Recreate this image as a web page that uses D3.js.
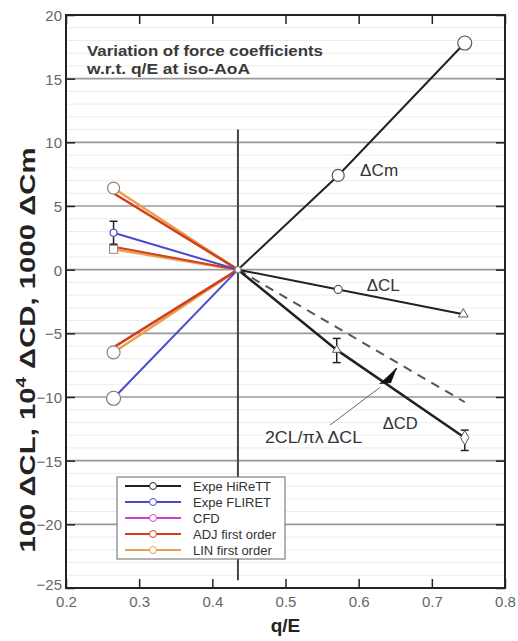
<!DOCTYPE html>
<html><head><meta charset="utf-8">
<script src="https://cdn.jsdelivr.net/npm/d3@7"></script>
<style>body{margin:0;background:#fff}svg{display:block}</style>
</head><body><svg id="c" width="518" height="641"></svg>
<script>
// ---- data ----
const xTicks = [0.2,0.3,0.4,0.5,0.6,0.7,0.8];
const yTicks = [-25,-20,-15,-10,-5,0,5,10,15,20];
const center = [0.435, 0];
// Expe HiReTT (black)
const hiCmX = [0.435, 0.572, 0.745], hiCmY = [0, 7.4, 17.8];
const hiClX = [0.435, 0.572, 0.743], hiClY = [0, -1.55, -3.5];
const hiCdX = [0.435, 0.570, 0.745], hiCdY = [0, -6.3, -13.2];
const hiCdErrLo = [-7.3, -14.2], hiCdErrHi = [-5.4, -12.6];
// Expe FLIRET (blue)
const flCmX = [0.265, 0.435], flCmY = [-10.1, 0];
const flClX = [0.265, 0.435], flClY = [2.9, 0];
const flClErr = [2.0, 3.8];
// ADJ first order (red)
const adjCdX = [0.265, 0.435], adjCdY = [6.0, 0];
const adjCmX = [0.265, 0.435], adjCmY = [-6.1, 0];
const adjClX = [0.265, 0.435], adjClY = [1.8, 0];
// LIN first order (orange)
const linCdX = [0.265, 0.435], linCdY = [6.4, 0];
const linCmX = [0.265, 0.435], linCmY = [-6.5, 0];
const linClX = [0.265, 0.435], linClY = [1.6, 0];
// theoretical 2CL/pi lambda dCL (dashed)
const thX = [0.435, 0.745], thY = [0, -10.4];
// vertical reference line
const vLineX = 0.435, vLineY = [11, -24.4];
const legendNames = ["Expe HiReTT","Expe FLIRET","CFD","ADJ first order","LIN first order"];
const legendColors = ["#222222","#4a4ad0","#d040d0","#d0401a","#e8a050"];

// ---- layout ----
const W=518,H=641, m={l:66,r:13,t:15,b:53};
const svg=d3.select("#c");
const x=d3.scaleLinear().domain([0.2,0.8]).range([m.l,W-m.r]);
const y=d3.scaleLinear().domain([-25,20]).range([H-m.b,m.t]);
const font="'Liberation Sans', Arial, sans-serif";
const zip=(a,b)=>a.map((v,i)=>[v,b[i]]);
const line=d3.line().x(d=>x(d[0])).y(d=>y(d[1]));

// minor gridlines
svg.append("g").selectAll("line").data(d3.range(-24,20,1).filter(v=>v%5!==0)).join("line")
  .attr("x1",x(0.2)).attr("x2",x(0.8)).attr("y1",d=>y(d)).attr("y2",d=>y(d))
  .attr("stroke","#ececec").attr("stroke-width",1);
// major gridlines
svg.append("g").selectAll("line").data([-20,-15,-10,-5,0,5,10,15]).join("line")
  .attr("x1",x(0.2)).attr("x2",x(0.8)).attr("y1",d=>y(d)).attr("y2",d=>y(d))
  .attr("stroke","#9a9a9a").attr("stroke-width",1.6);

// axes with inward ticks
const gB=svg.append("g").attr("transform",`translate(0,${y(-25)})`);
gB.call(d3.axisBottom(x).tickValues(d3.range(0.2,0.8001,0.02)).tickSize(-4).tickFormat(""));
gB.call(d3.axisBottom(x).tickValues(xTicks).tickSize(-9).tickFormat(d3.format(".1f")).tickPadding(8));
const gT=svg.append("g").attr("transform",`translate(0,${y(20)})`);
gT.call(d3.axisTop(x).tickValues(d3.range(0.2,0.8001,0.02)).tickSize(-4).tickFormat(""));
gT.call(d3.axisTop(x).tickValues(xTicks).tickSize(-9).tickFormat(""));
const gL=svg.append("g").attr("transform",`translate(${x(0.2)},0)`);
gL.call(d3.axisLeft(y).tickValues(d3.range(-25,20.01,1)).tickSize(-4).tickFormat(""));
gL.call(d3.axisLeft(y).tickValues(yTicks).tickSize(-9).tickPadding(4));
const gR=svg.append("g").attr("transform",`translate(${x(0.8)},0)`);
gR.call(d3.axisRight(y).tickValues(d3.range(-25,20.01,1)).tickSize(-4).tickFormat(""));
gR.call(d3.axisRight(y).tickValues(yTicks).tickSize(-9).tickFormat(""));
svg.selectAll(".domain").remove();
svg.selectAll(".tick line").attr("stroke","#222").attr("stroke-width",1.5);
svg.selectAll(".tick text").attr("font-family",font).attr("font-size",15).attr("fill","#666");
gL.selectAll(".tick text").attr("dy",d=>d===-25?"0.1em":"0.36em");
// frame
svg.append("rect").attr("x",x(0.2)).attr("y",y(20)).attr("width",x(0.8)-x(0.2)).attr("height",y(-25)-y(20))
  .attr("fill","none").attr("stroke","#222").attr("stroke-width",2);

// title
const tt=svg.append("text").attr("font-family",font).attr("font-size",15.5).attr("font-weight","bold").attr("fill","#3a3a3a");
tt.append("tspan").attr("x",87).attr("y",56).attr("textLength",236).attr("lengthAdjust","spacingAndGlyphs").text("Variation of force coefficients");
tt.append("tspan").attr("x",87).attr("y",74).attr("textLength",163).attr("lengthAdjust","spacingAndGlyphs").text("w.r.t. q/E at iso-AoA");

// vertical reference line
svg.append("line").attr("x1",x(vLineX)).attr("x2",x(vLineX)).attr("y1",y(vLineY[0])).attr("y2",y(vLineY[1]))
  .attr("stroke","#444").attr("stroke-width",2);

// theoretical dashed
svg.append("path").attr("d",line(zip(thX,thY))).attr("fill","none").attr("stroke","#555")
  .attr("stroke-width",2).attr("stroke-dasharray","9,7");

// series lines
const series=[
 [linCdX,linCdY,legendColors[4],2.5],[linCmX,linCmY,legendColors[4],2.5],[linClX,linClY,legendColors[4],2.5],
 [adjCdX,adjCdY,legendColors[3],2.5],[adjCmX,adjCmY,legendColors[3],2.5],[adjClX,adjClY,legendColors[3],2],
 [flCmX,flCmY,legendColors[1],2],[flClX,flClY,legendColors[1],2],
 [hiCmX,hiCmY,legendColors[0],2],[hiClX,hiClY,legendColors[0],2],[hiCdX,hiCdY,legendColors[0],2.5]
];
series.forEach(([xs,ys,c,w])=>{
  svg.append("path").attr("d",line(zip(xs,ys))).attr("fill","none").attr("stroke",c).attr("stroke-width",w);
});

// error bars
function errBar(xv,lo,hi){
  const g=svg.append("g").attr("stroke","#222").attr("stroke-width",1.5);
  g.append("line").attr("x1",x(xv)).attr("x2",x(xv)).attr("y1",y(lo)).attr("y2",y(hi));
  [lo,hi].forEach(v=>g.append("line").attr("x1",x(xv)-4).attr("x2",x(xv)+4).attr("y1",y(v)).attr("y2",y(v)));
}
errBar(hiCdX[1],hiCdErrLo[0],hiCdErrHi[0]);
errBar(hiCdX[2],hiCdErrLo[1],hiCdErrHi[1]);
errBar(flClX[0],flClErr[0],flClErr[1]);

// markers
function circ(xv,yv,r,c){svg.append("circle").attr("cx",x(xv)).attr("cy",y(yv)).attr("r",r)
  .attr("fill","#fff").attr("stroke",c).attr("stroke-width",1.2);}
circ(hiCmX[1],hiCmY[1],6,"#555"); circ(hiCmX[2],hiCmY[2],7,"#555");
circ(hiClX[1],hiClY[1],4,"#555");
svg.append("path").attr("d",d3.symbol(d3.symbolTriangle,40)()).attr("transform",`translate(${x(hiClX[2])},${y(hiClY[2])})`)
  .attr("fill","#fff").attr("stroke","#555");
svg.append("path").attr("d",d3.symbol(d3.symbolTriangle,30)()).attr("transform",`translate(${x(hiCdX[1])},${y(hiCdY[1])})`)
  .attr("fill","#fff").attr("stroke","#555");
svg.append("path").attr("d",d3.symbol(d3.symbolDiamond,60)()).attr("transform",`translate(${x(hiCdX[2])},${y(hiCdY[2])})`)
  .attr("fill","#fff").attr("stroke","#555");
circ(linCdX[0],linCdY[0],6,"#a08070");
circ(linCmX[0],linCmY[0],6.5,"#a08070");
svg.append("rect").attr("x",x(linClX[0])-4).attr("y",y(linClY[0])-4).attr("width",8).attr("height",8)
  .attr("fill","#fff").attr("stroke","#a08070");
circ(flCmX[0],flCmY[0],7,"#777");
circ(flClX[0],flClY[0],3.5,"#4a4ad0");
// center marker
circ(center[0],center[1],3,"#888");

// annotation leader + arrow
const leadX=[0.561,0.629], leadY=[-12.2,-9.25];
svg.append("line").attr("x1",x(leadX[0])).attr("y1",y(leadY[0])).attr("x2",x(leadX[1])).attr("y2",y(leadY[1]))
  .attr("stroke","#666").attr("stroke-width",1);
const arrX=[0.636,0.652], arrY=[-8.75,-7.75];
svg.append("line").attr("x1",x(arrX[0])).attr("y1",y(arrY[0])).attr("x2",x(arrX[1])).attr("y2",y(arrY[1]))
  .attr("stroke","#111").attr("stroke-width",1.5);
svg.append("path").attr("d",`M${x(arrX[0])-6},${y(arrY[0])+3} L${x(arrX[1])},${y(arrY[1])} L${x(arrX[0])+6},${y(arrY[0])+2} Z`)
  .attr("fill","#111");

// curve labels
const lab=(t,xv,yv,len)=>svg.append("text").attr("x",x(xv)).attr("y",y(yv)).attr("font-family",font)
  .attr("font-size",16).attr("fill","#333").attr("dy","0.35em").attr("textLength",len)
  .attr("lengthAdjust","spacingAndGlyphs").text(t);
lab("ΔCm",0.602,7.8,38); lab("ΔCL",0.611,-1.2,33); lab("ΔCD",0.633,-12.05,35); lab("2CL/πλ ΔCL",0.472,-13.2,97);

// legend
const lg=svg.append("g").attr("transform","translate(117,477)");
lg.append("rect").attr("width",168).attr("height",82).attr("fill","#fff").attr("stroke","#666").attr("stroke-width",1);
legendNames.forEach((n,i)=>{
  const yy=9+i*16;
  lg.append("line").attr("x1",8).attr("x2",64).attr("y1",yy).attr("y2",yy).attr("stroke",legendColors[i]).attr("stroke-width",2);
  lg.append("circle").attr("cx",36).attr("cy",yy).attr("r",3.5).attr("fill","#fff").attr("stroke",legendColors[i]).attr("stroke-width",1);
  lg.append("text").attr("x",76).attr("y",yy).attr("dy","0.35em").attr("font-family",font).attr("font-size",13)
    .attr("fill","#333").text(n);
});

// axis titles
svg.append("text").attr("x",x(0.5)).attr("y",632).attr("text-anchor","middle").attr("font-family",font)
  .attr("font-size",19).attr("font-weight","bold").attr("fill","#222").text("q/E");
const yl=svg.append("text").attr("transform",`translate(35,${350}) rotate(-90)`).attr("text-anchor","middle")
  .attr("font-family",font).attr("font-size",22).attr("font-weight","bold").attr("fill","#222")
  .attr("textLength",405).attr("lengthAdjust","spacingAndGlyphs");
yl.append("tspan").text("100 ΔCL, 10");
yl.append("tspan").attr("dy",-9).attr("font-size",14).text("4");
yl.append("tspan").attr("dy",9).text(" ΔCD, 1000 ΔCm");
</script></body></html>
